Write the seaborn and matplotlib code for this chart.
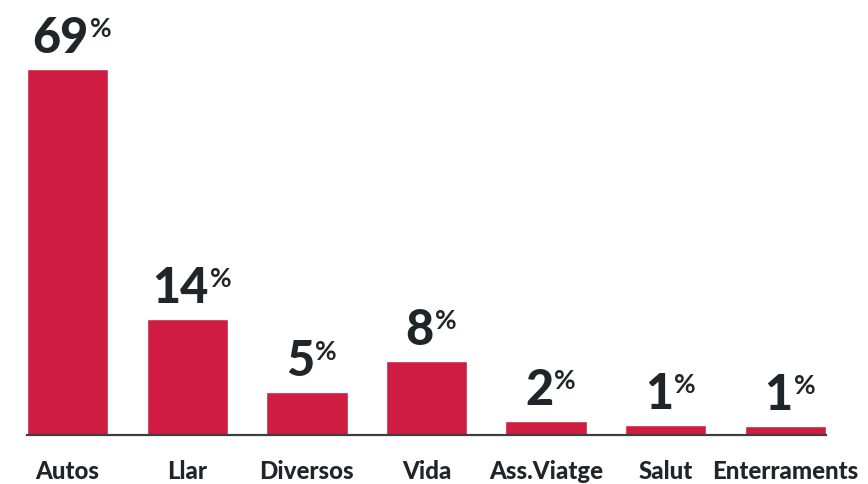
import matplotlib
matplotlib.use("Agg")
import matplotlib.pyplot as plt
import seaborn as sns
import pandas as pd

categories = ["Autos", "Llar", "Diversos", "Vida", "Ass.Viatge", "Salut", "Enterraments"]
bar_heights = [69, 21.9, 8.1, 13.9, 2.6, 1.9, 1.7]
value_labels = ["69", "14", "5", "8", "2", "1", "1"]

BAR_COLOR = "#CE1D41"
TEXT_COLOR = "#1F2528"

sns.set_theme(style="white")
plt.rcParams["font.family"] = ["Lato", "DejaVu Sans"]

df = pd.DataFrame({"cat": categories, "val": bar_heights})

fig = plt.figure(figsize=(8.68, 4.84), dpi=100)
ax = fig.add_axes([27 / 868, 1 - 435 / 484, 799 / 868, 435 / 484])
sns.barplot(data=df, x="cat", y="val", color=BAR_COLOR, width=0.68,
            saturation=1, ax=ax)

ax.set_xlim(-0.34, len(categories) - 1 + 0.34)
ax.set_ylim(0, 69 * 435 / 366)
ax.set_xlabel("")
ax.set_ylabel("")
ax.set_yticks([])
for s in ["top", "left", "right"]:
    ax.spines[s].set_visible(False)
ax.spines["bottom"].set_color("#3A3F42")
ax.spines["bottom"].set_linewidth(1.6)
ax.tick_params(axis="x", length=0, pad=18)
for lab in ax.get_xticklabels():
    lab.set_fontsize(17.3)
    lab.set_fontweight("black")
    lab.set_color(TEXT_COLOR)

fig.canvas.draw()
renderer = fig.canvas.get_renderer()
for i, (h, lbl) in enumerate(zip(bar_heights, value_labels)):
    t1 = ax.annotate(lbl, xy=(i, h), xycoords="data", xytext=(0, 16),
                     textcoords="offset pixels", ha="left", va="baseline",
                     fontsize=35, fontweight="black", color=TEXT_COLOR)
    t2 = ax.annotate("%", xy=(i, h), xycoords="data", xytext=(0, 16),
                     textcoords="offset pixels", ha="left", va="baseline",
                     fontsize=19, fontweight="bold", color=TEXT_COLOR)
    w1 = t1.get_window_extent(renderer).width
    w2 = t2.get_window_extent(renderer).width
    total = w1 + w2
    start = -total / 2 + 4
    t1.set_position((start, 16))
    # % sign top-aligned with digits
    t2.set_position((start + w1 + 1, 16 + (35 - 19) / 72 * 100 * 0.72))

fig.savefig("out.png", dpi=100, facecolor="white")
